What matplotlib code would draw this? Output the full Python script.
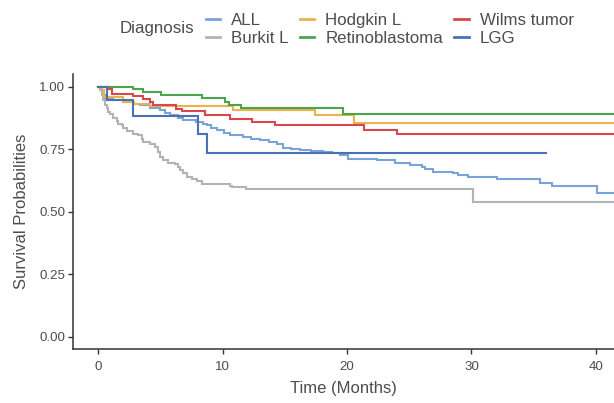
import matplotlib
matplotlib.use("Agg")
import matplotlib.pyplot as plt
from matplotlib.lines import Line2D

plt.rcParams["font.family"] = ["Liberation Sans", "DejaVu Sans"]

TEXT_COLOR = "#4d4d4d"
AXIS_COLOR = "#333333"

# Kaplan-Meier step curves (time in months, survival)
all_t = [0, 0.2, 0.4, 0.56, 1.2, 2.03, 2.8, 3.4, 4.18, 4.98, 5.4, 5.78, 6.4,
         6.85, 7.9, 8.4, 8.73, 9.1, 9.53, 10.1, 10.6, 11.67, 12.3, 13.0, 13.7,
         14.35, 14.9, 15.5, 16.2, 17.1, 18.1, 18.8, 19.44, 20.1, 22.38, 23.86,
         25.06, 26.0, 26.27, 26.93, 28.54, 28.94, 29.74, 32.02, 35.5, 36.44,
         40.06]
all_s = [1.0, 0.985, 0.968, 0.953, 0.946, 0.94, 0.932, 0.925, 0.913, 0.905,
         0.895, 0.885, 0.875, 0.865, 0.859, 0.852, 0.845, 0.835, 0.825, 0.815,
         0.806, 0.799, 0.792, 0.785, 0.778, 0.77, 0.756, 0.75, 0.746, 0.742,
         0.738, 0.735, 0.726, 0.712, 0.706, 0.695, 0.686, 0.679, 0.669, 0.659,
         0.653, 0.646, 0.639, 0.63, 0.615, 0.602, 0.573]

burkit_t = [0, 0.15, 0.3, 0.43, 0.56, 0.7, 0.83, 0.96, 1.23, 1.5, 1.63, 1.9,
            2.03, 2.3, 2.84, 3.24, 3.51, 3.64, 4.18, 4.58, 4.85, 4.98, 5.25,
            5.65, 6.18, 6.45, 6.59, 6.85, 7.12, 7.52, 7.93, 8.33, 10.6, 10.74,
            11.9, 30.15]
burkit_s = [1.0, 0.985, 0.966, 0.946, 0.926, 0.913, 0.9, 0.89, 0.875, 0.862,
            0.852, 0.845, 0.833, 0.822, 0.812, 0.805, 0.792, 0.779, 0.772,
            0.759, 0.739, 0.719, 0.706, 0.695, 0.69, 0.679, 0.666, 0.653,
            0.637, 0.629, 0.622, 0.61, 0.604, 0.598, 0.589, 0.538]

hodgkin_t = [0, 0.3, 0.45, 2.03, 2.9, 4.2, 10.87, 17.43, 20.56]
hodgkin_s = [1.0, 0.985, 0.96, 0.94, 0.932, 0.922, 0.908, 0.885, 0.854]

retino_t = [0, 2.84, 3.64, 5.03, 8.33, 10.2, 10.55, 11.46, 19.7]
retino_s = [1.0, 0.991, 0.979, 0.966, 0.954, 0.937, 0.926, 0.914, 0.89]

wilms_t = [0, 0.83, 1.1, 2.84, 3.64, 4.18, 4.45, 6.3, 6.72, 8.6, 10.6, 12.34,
           14.2, 21.37, 24.0]
wilms_s = [1.0, 0.99, 0.972, 0.962, 0.952, 0.938, 0.925, 0.912, 0.902, 0.885,
           0.872, 0.859, 0.848, 0.828, 0.812]

lgg_t = [0, 0.7, 2.84, 8.06, 8.73]
lgg_s = [1.0, 0.948, 0.881, 0.809, 0.735]

labels = ["ALL", "Burkit L", "Hodgkin L", "Retinoblastoma", "Wilms tumor", "LGG"]
times = [all_t, burkit_t, hodgkin_t, retino_t, wilms_t, lgg_t]
survs = [all_s, burkit_s, hodgkin_s, retino_s, wilms_s, lgg_s]
end_times = [42, 42, 42, 42, 42, 36.0]
colors = ["#7ba3db", "#b3b3b3", "#ebb34c", "#4ba64b", "#d8474b", "#4a72b2"]

fig = plt.figure(figsize=(6.14, 4.03), dpi=100)
ax = fig.add_axes([0.1197, 0.1333, 0.8803, 0.683])

for t, s, end, c in zip(times, survs, end_times, colors):
    ax.step(t + [end], s + [s[-1]], where="post", color=c, lw=1.5,
            solid_joinstyle="miter")

ax.set_xlim(-1.97, 41.45)
ax.set_ylim(-0.05, 1.05)
ax.set_xticks([0, 10, 20, 30, 40])
ax.set_yticks([0, 0.25, 0.5, 0.75, 1.0])
ax.set_yticklabels(["0.00", "0.25", "0.50", "0.75", "1.00"])

for side in ["top", "right"]:
    ax.spines[side].set_visible(False)
for side in ["left", "bottom"]:
    ax.spines[side].set_color(AXIS_COLOR)
    ax.spines[side].set_linewidth(1.1)
ax.tick_params(axis="both", length=3.5, width=1.0, color=AXIS_COLOR,
               labelsize=9.6, labelcolor=TEXT_COLOR, pad=2.5)
ax.tick_params(axis="x", pad=5)

ax.set_xlabel("Time (Months)", fontsize=12, color=TEXT_COLOR, labelpad=6)
ax.set_ylabel("Survival Probabilities", fontsize=12, color=TEXT_COLOR,
              labelpad=7)

handles = [Line2D([], [], color=c, lw=2) for c in colors]
fig.legend(handles, labels, ncol=3, loc="upper left",
           bbox_to_anchor=(206 / 614, 1 - 13 / 403), frameon=False,
           fontsize=12.2, labelcolor=TEXT_COLOR, borderpad=0,
           borderaxespad=0, handlelength=0.85, handletextpad=0.65,
           columnspacing=0.65, labelspacing=0.2)
fig.text(120 / 614, 1 - 32.5 / 403, "Diagnosis", fontsize=12.2,
         color=TEXT_COLOR, ha="left", va="baseline")

fig.savefig("out.png", dpi=100)
